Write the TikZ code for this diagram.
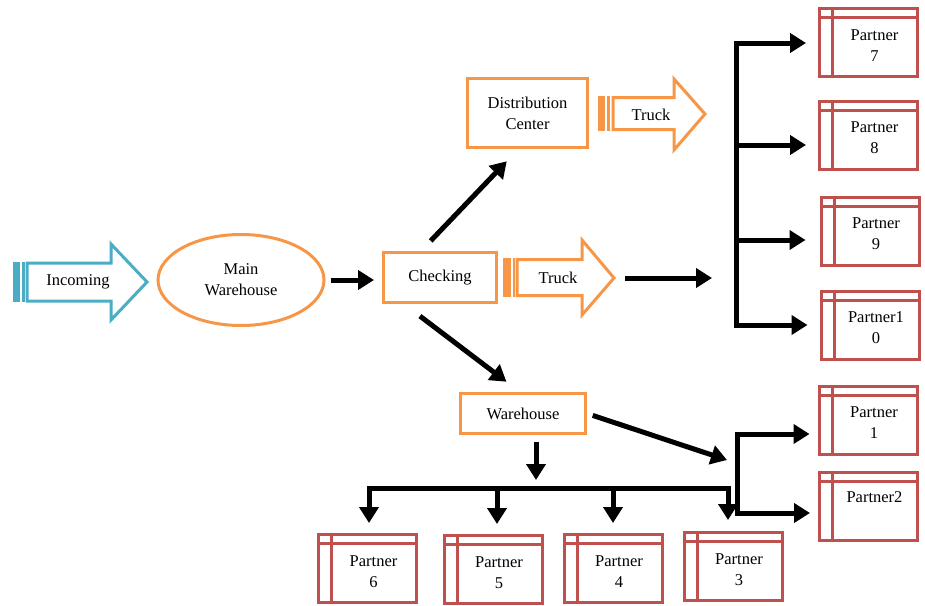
\documentclass[tikz,border=0pt]{standalone}
\usepackage{fontspec}
\setmainfont{Liberation Serif}
\usetikzlibrary{arrows.meta, positioning, shapes.geometric}

\definecolor{porange}{HTML}{F79646}
\definecolor{pblue}{HTML}{4BACC6}
\definecolor{pred}{HTML}{C0504D}

\begin{document}
\begin{tikzpicture}[
    x=1pt, y=-1pt,
    every node/.style={font=\fontsize{16.5}{21}\selectfont},
    obox/.style={draw=porange, line width=3pt, align=center, inner sep=0pt},
    partner/.style={draw=pred, line width=3pt, minimum width=98pt, minimum height=68pt, inner sep=0pt,
        path picture={
            \draw[pred, line width=3pt] ([yshift=-9pt]path picture bounding box.north west) -- ([yshift=-9pt]path picture bounding box.north east);
            \draw[pred, line width=3pt] ([xshift=13pt]path picture bounding box.north west) -- ([xshift=13pt]path picture bounding box.south west);
        }},
    ptext/.style={align=center, xshift=6pt, yshift=-3pt},
    stripe/.style={line width=3pt, line join=miter},
    arrow/.style={-{Triangle[length=16pt, width=19pt]}, line width=5pt},
    dblarrow/.style={{Triangle[length=16pt, width=19pt]}-{Triangle[length=16pt, width=19pt]}, line width=5pt}
]
    \useasboundingbox (0,0) rectangle (925,605);

    % Incoming (striped arrow)
    \node (incoming) at (78,282) {Incoming};
    \fill[pblue] (13,262) rectangle (20,302);
    \fill[pblue] (22,262) rectangle (25,302);
    \draw[stripe, pblue] (27,263) -- (111,263) -- (111,244) -- (147,282) -- (111,320) -- (111,301) -- (27,301) -- cycle;

    % main nodes
    \node[obox, ellipse, minimum width=166pt, minimum height=91pt] (main) at (241,280) {Main\\Warehouse};
    \node[obox, minimum width=113pt, minimum height=50pt] (check) at (440,277.5) {Checking};
    \node[obox, minimum width=120pt, minimum height=69pt] (dc) at (527.5,113) {Distribution\\Center};
    \node[obox, minimum width=125pt, minimum height=40pt] (wh) at (523,413.5) {Warehouse};

    % Trucks
    \node (truckA) at (651,115) {Truck};
    \fill[porange] (598,96) rectangle (605,131);
    \fill[porange] (607,96) rectangle (610,131);
    \draw[stripe, porange] (613,97.5) -- (674,97.5) -- (674,79) -- (705,114) -- (674,150) -- (674,129.5) -- (613,129.5) -- cycle;

    \node (truckB) at (558,278) {Truck};
    \fill[porange] (503,258) rectangle (511,297);
    \fill[porange] (513,258) rectangle (515,297);
    \draw[stripe, porange] (517,259.5) -- (582,259.5) -- (582,240) -- (614,278) -- (582,315) -- (582,295.5) -- (517,295.5) -- cycle;
    \coordinate (truckBtip) at (617,278);

    % Partners
    \node[partner, label={[ptext]center:Partner\\7}] (p7) at (868.5,42.5) {};
    \node[partner, label={[ptext]center:Partner\\8}] (p8) at (868.5,135) {};
    \node[partner, label={[ptext]center:Partner\\9}] (p9) at (870,231) {};
    \node[partner, label={[ptext]center:Partner1\\0}] (p10) at (870,325) {};
    \node[partner, label={[ptext]center:Partner\\1}] (p1) at (868,420) {};
    \node[partner, label={[ptext, yshift=12pt]center:Partner2}] (p2) at (868.5,506.5) {};
    \node[partner, label={[ptext]center:Partner\\6}] (p6) at (367.5,568.5) {};
    \node[partner, label={[ptext]center:Partner\\5}] (p5) at (493,569.5) {};
    \node[partner, label={[ptext]center:Partner\\4}] (p4) at (613,568.5) {};
    \node[partner, label={[ptext]center:Partner\\3}] (p3) at (733,566.5) {};

    % bus points
    \coordinate (r7) at (736,43);
    \coordinate (r8) at (736,145);
    \coordinate (r9) at (736,240);
    \coordinate (r10) at (736,325);
    \coordinate (busin) at (712,278);
    \coordinate (q1) at (737,434);
    \coordinate (q2) at (737,513);
    \coordinate (whtip) at (727,460);
    \coordinate (whdn) at (536,480);
    \coordinate (bl) at (369,488);
    \coordinate (b5) at (497,488);
    \coordinate (b4) at (613,488);
    \coordinate (br) at (728,488);

    % connectors
    \draw[arrow, shorten <=5pt, shorten >=8pt] (main.east) -- (main.east -| check.west);
    \draw[arrow, shorten <=14pt, shorten >=17pt] ([xshift=-19pt]check.north) -- ([xshift=-9pt]dc.south);
    \draw[arrow, shorten <=20pt, shorten >=17pt] ([xshift=-36pt]check.south) -- ([xshift=-3pt]wh.north);
    \draw[arrow, shorten <=8pt] (truckBtip) -- (busin);
    \draw[arrow, shorten <=6pt] (wh.east) -- (whtip);
    \draw[arrow, shorten <=7pt] (wh.south -| whdn) -- (whdn);

    \draw[dblarrow, shorten <=12pt, shorten >=12pt] (r7 -| p7.west) -- (r7) -- (r10) -- (r10 -| p10.west);
    \draw[arrow, shorten >=12pt] (r8) -- (r8 -| p8.west);
    \draw[arrow, shorten >=14pt] (r9) -- (r9 -| p9.west);

    \draw[dblarrow, shorten <=8pt, shorten >=8pt] (q1 -| p1.west) -- (q1) -- (q2) -- (q2 -| p2.west);

    \draw[dblarrow, shorten <=10pt, shorten >=11pt] (bl |- p6.north) -- (bl) -- (br) -- (br |- p3.north);
    \draw[arrow, shorten >=10pt] (b5) -- (b5 |- p5.north);
    \draw[arrow, shorten >=10pt] (b4) -- (b4 |- p4.north);
\end{tikzpicture}
\end{document}
